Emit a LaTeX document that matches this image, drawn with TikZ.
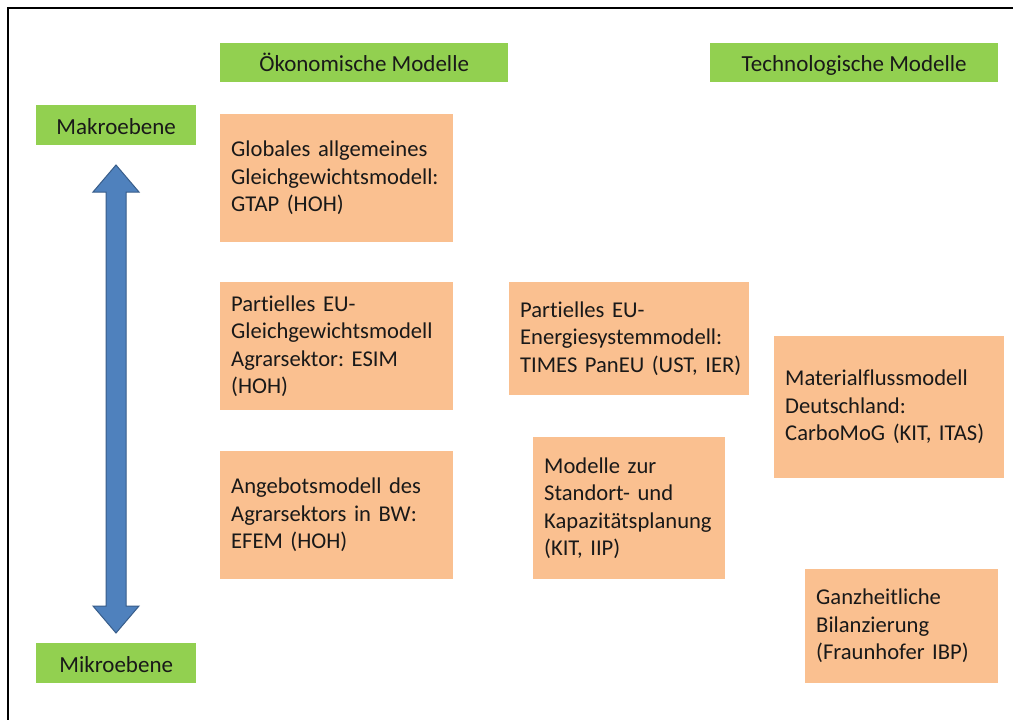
\documentclass[tikz,border=0pt]{standalone}
\usepackage{fontspec}
\setmainfont{Carlito}[Ligatures={NoCommon}]
\frenchspacing
\definecolor{gbox}{HTML}{92D050}
\definecolor{obox}{HTML}{FAC090}
\definecolor{arrfill}{HTML}{4F81BD}
\definecolor{arrline}{HTML}{385D8A}
\begin{document}
\begin{tikzpicture}[x=1pt,y=-1pt,
  greenbox/.style={fill=gbox, draw=none, inner sep=0pt, anchor=north west,
    text height=19pt, text depth=1pt,
    font=\fontsize{23}{27}\selectfont, text=black!90},
  orangebox/.style={fill=obox, draw=none, inner xsep=11pt, inner ysep=0pt, anchor=north west,
    align=left, font=\fontsize{22.6}{27.5}\selectfont\frenchspacing, text=black!90},
  frameline/.style={draw=black, line width=2pt}
]
\useasboundingbox (0,0) rectangle (1013,720);
\fill[white] (0,0) rectangle (1013,720);
\draw[frameline] (8,730) -- (8,8) -- (1020,8);

% header boxes
\node[greenbox, minimum width=288pt, minimum height=39pt] (oek) at (220,43) {Ökonomische Modelle};
\node[greenbox, minimum width=288pt, minimum height=39pt] (tech) at (710,43) {Technologische Modelle};
\node[greenbox, minimum width=160pt, minimum height=40pt] (makro) at (36,105) {Makroebene};
\node[greenbox, minimum width=160pt, minimum height=40pt] (mikro) at (36,643) {Mikroebene};

% model boxes
\node[orangebox, text width=211pt, minimum height=128pt] (gtap) at (220,114)
  {Globales allgemeines\\Gleichgewichtsmodell:\\GTAP (HOH)};
\node[orangebox, text width=211pt, minimum height=128pt] (esim) at (220,282)
  {Partielles EU-\\Gleichgewichtsmodell\\Agrarsektor: ESIM\\(HOH)};
\node[orangebox, text width=211pt, minimum height=128pt] (efem) at (220,451)
  {Angebotsmodell des\\Agrarsektors in BW:\\EFEM (HOH)};
\node[orangebox, text width=218pt, minimum height=113pt] (times) at (509,282)
  {Partielles EU-\\Energiesystemmodell:\\\mbox{TIMES PanEU (UST, IER)}};
\node[orangebox, text width=170pt, minimum height=142pt] (stand) at (533,437)
  {Modelle zur\\Standort- und\\Kapazitätsplanung\\(KIT, IIP)};
\node[orangebox, text width=208pt, minimum height=142pt] (mat) at (774,336)
  {Materialflussmodell\\Deutschland:\\\mbox{CarboMoG (KIT, ITAS)}};
\node[orangebox, text width=171pt, minimum height=114pt] (ganz) at (805,569)
  {Ganzheitliche\\Bilanzierung\\\mbox{(Fraunhofer IBP)}};

% double block arrow between Makro- and Mikroebene
\coordinate (atop) at (116,165);
\coordinate (abot) at (116,633);
\draw[fill=arrfill, draw=arrline, line width=1pt, line join=miter]
  (atop) -- ++(23,27) -- ++(-13,0) -- (126,606) -- ++(13,0) -- (abot)
  -- ++(-23,-27) -- ++(13,0) -- (106,192) -- ++(-13,0) -- cycle;
\end{tikzpicture}
\end{document}
